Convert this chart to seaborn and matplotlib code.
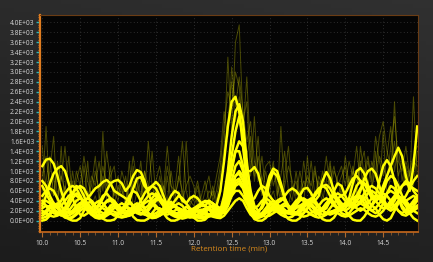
import numpy as np
import pandas as pd
import matplotlib
matplotlib.use("Agg")
import matplotlib.pyplot as plt
from matplotlib.ticker import MultipleLocator, FuncFormatter
import seaborn as sns

# ---------------- data ----------------
retention_time = np.arange(10.0, 14.96, 0.05).round(2)   # 100 samples, min

bright_1 = [1100,1230,1250,1150,900,600,350,200,150,200,300,400,450,400,300,200,150,150,200,250,
            300,350,300,250,200,150,120,150,250,380,450,420,300,200,150,120,100,120,150,180,
            200,180,150,120,100,150,300,600,1200,1900,2400,2500,2200,1500,800,350,150,100,120,200,
            300,350,300,200,150,150,200,280,300,250,180,120,100,150,250,350,400,350,250,150,
            120,150,250,400,500,450,300,200,150,200,350,550,700,650,450,250,150,200,300,400]
bright_2 = [300,500,750,950,1050,1100,1000,750,450,250,120,100,150,250,350,400,350,250,150,100,
            120,200,350,500,600,550,400,250,150,100,100,150,250,350,380,300,200,120,80,60,
            80,120,200,250,220,150,100,200,500,1000,1700,2200,2350,2000,1200,500,200,150,300,600,
            900,1050,1000,750,450,250,150,120,150,250,350,400,350,250,200,250,400,600,750,700,
            500,350,300,400,600,850,1000,1050,950,700,450,300,250,300,400,450,400,300,250,300]
bright_3 = [700,550,400,300,250,300,400,500,550,500,450,400,450,550,650,700,780,820,750,600,
            550,500,450,400,300,200,150,150,200,300,400,450,400,300,200,150,150,200,280,220,
            150,100,100,150,250,300,250,200,400,800,1300,1800,2100,1700,1000,1000,1080,950,650,400,
            250,200,250,300,350,300,200,150,120,150,250,400,550,650,700,650,500,350,250,200,
            250,350,450,500,450,350,250,200,250,350,450,550,600,550,450,400,500,650,800,900]
bright_4 = [400,300,200,150,120,150,250,400,550,650,700,650,500,350,250,300,450,600,750,800,
            820,750,600,700,900,1020,980,800,550,350,250,200,200,250,300,280,220,150,100,80,
            60,80,120,200,280,300,250,180,300,600,1000,1400,1600,1500,1100,600,300,200,250,400,
            800,980,900,700,450,300,250,350,500,640,660,550,400,500,800,980,850,600,400,300,
            300,450,750,1000,1060,950,700,500,400,450,600,800,900,850,700,500,400,450,500,450]
bright_5 = [150,200,300,350,300,200,120,100,150,250,350,400,350,250,150,100,120,200,300,350,
            300,250,200,180,200,250,300,350,400,380,300,220,150,120,150,200,250,220,150,100,
            80,60,50,60,80,100,120,150,300,700,1100,1400,1400,1100,600,250,100,80,100,150,
            200,250,300,280,220,150,120,150,250,350,400,350,250,200,250,350,450,500,450,350,
            300,350,500,700,800,750,600,450,400,500,700,900,1100,1300,1470,1300,900,600,1100,1900]
bright_6 = [500,600,650,600,450,300,200,150,200,300,350,300,200,120,80,60,80,150,250,300,
            250,180,120,100,150,250,400,550,650,700,650,500,350,200,120,80,60,80,120,150,
            180,200,180,150,120,100,80,100,250,500,800,1100,1200,1000,600,300,150,100,150,250,
            350,400,350,250,180,150,200,300,400,450,400,300,200,150,120,150,250,350,450,500,
            550,700,850,900,800,600,400,300,500,800,1100,1220,1100,800,500,300,200,150,200,250]
bright_7 = [200,150,100,80,100,150,250,400,550,700,650,500,300,200,150,200,300,400,450,400,
            300,200,150,120,150,200,300,400,500,550,500,400,300,250,300,400,500,450,350,250,
            200,250,350,400,350,250,150,100,200,400,650,900,1000,900,600,350,250,300,400,450,
            400,300,200,150,150,200,300,400,450,400,300,200,150,150,200,300,400,500,550,500,
            400,300,250,300,400,550,650,700,650,550,400,300,300,400,550,700,800,750,600,500]
bright_8 = [350,400,350,250,150,100,120,200,300,400,450,400,300,200,150,200,300,380,400,350,
            250,200,250,400,650,850,880,700,600,700,780,700,500,300,200,150,120,100,120,150,
            200,250,300,300,250,200,150,120,200,350,550,750,800,700,450,250,150,120,150,200,
            250,300,250,200,150,150,200,250,300,350,400,450,400,300,200,150,150,200,250,300,
            350,400,450,400,350,300,250,300,400,500,550,500,400,300,200,150,200,300,400,500]
bright_9 = [100,150,250,300,250,150,80,50,80,150,250,300,250,150,100,80,100,150,200,180,
            150,100,80,100,150,200,220,200,150,100,80,100,150,200,250,300,350,300,200,150,
            120,100,80,80,100,150,200,250,300,400,500,600,600,500,350,250,200,150,100,80,
            100,150,200,250,300,280,220,150,100,80,100,150,200,220,200,150,120,150,200,250,
            300,350,300,250,200,250,350,450,500,450,350,250,200,250,350,400,350,300,350,450]
bright_10 = [50,80,150,200,180,120,60,40,60,120,200,250,200,120,60,40,50,100,150,120,
             80,60,80,150,250,300,250,150,80,50,60,100,150,180,150,100,60,40,60,100,
             150,200,220,180,120,80,60,50,100,200,300,400,450,400,250,120,60,50,80,150,
             200,220,180,120,80,60,80,150,200,220,180,120,80,60,80,120,180,200,150,100,
             80,100,150,200,250,220,150,100,80,120,200,300,350,300,200,120,100,150,250,300]
bright_11 = [250,300,280,200,150,150,200,300,450,550,500,350,200,150,200,350,500,550,450,300,
             200,150,150,200,300,350,300,250,300,450,550,450,300,350,500,600,550,400,350,450,
             500,450,350,300,400,350,200,150,200,300,500,700,750,650,400,200,100,80,100,150,
             200,300,400,450,400,300,200,150,200,300,350,300,250,300,400,450,400,300,250,300,
             350,400,350,300,350,450,550,600,550,450,350,300,350,450,500,450,350,250,200,150]
bright_12 = [800,700,500,350,300,400,550,650,700,650,500,350,250,200,250,300,250,200,150,120,
             150,200,300,350,300,200,150,120,100,120,150,200,250,300,350,300,250,200,180,200,
             250,300,350,380,400,350,300,250,300,500,700,900,950,800,550,400,450,600,700,650,
             500,400,350,400,500,600,650,600,500,400,350,400,500,600,700,720,650,500,350,250,
             200,250,350,500,650,750,700,550,400,300,250,300,400,500,600,700,750,700,650,600]
bright_13 = [0,20,100,250,350,300,150,30,0,0,50,200,350,400,300,150,40,0,0,20,
             100,250,300,200,80,10,0,0,40,150,250,250,150,50,0,0,30,120,200,150,
             60,0,0,20,100,200,250,200,150,300,600,800,850,700,400,150,30,0,0,50,
             150,250,300,250,120,30,0,0,50,150,250,300,250,120,30,0,0,60,180,250,
             200,100,20,0,0,80,200,300,250,120,30,0,50,200,350,400,300,150,50,0]

faint_1 = [600,1900,400,900,300,1500,200,500,800,300,700,400,1200,300,500,200,1800,400,300,600,
           400,800,300,1200,200,600,400,1000,300,500,200,700,300,900,400,200,600,300,1600,400,
           300,500,200,400,300,700,400,900,1500,3300,1800,3600,3950,2000,2400,900,2100,900,500,700,
           400,600,300,1900,500,300,700,400,600,300,1300,400,300,800,500,400,1100,300,500,700,
           400,900,300,600,1200,400,800,500,1400,600,1800,500,900,2400,800,600,1100,700,2500,900]
faint_2 = [300,800,1300,500,1100,300,700,400,1000,500,300,1100,500,700,1300,400,900,500,1100,300,
           700,500,900,400,1100,500,800,300,600,1400,500,300,700,400,1000,500,800,1600,600,300,
           500,800,400,300,600,500,900,1300,2200,1700,3100,2300,2900,2200,1600,2000,1200,800,1300,600,
           800,1200,500,900,1400,600,400,1000,500,800,600,1200,500,900,700,1300,600,1000,800,500,
           1300,700,1100,500,1500,900,1200,700,1000,1700,2000,1400,1100,1600,900,1200,700,1000,1300,1500]
faint_3 = [1500,600,1000,1700,400,900,600,1300,400,800,1100,600,400,900,700,1200,600,1400,800,500,
           900,600,400,700,1300,800,500,1000,700,400,800,1100,600,1500,700,400,900,600,300,500,
           400,700,300,600,900,400,600,1100,1900,2600,2300,3000,2700,1800,2900,1300,900,1700,600,1000,
           500,1100,700,400,900,1500,600,800,400,1200,700,500,1000,600,400,800,1200,500,900,1100,
           700,1200,900,1500,700,1000,1300,800,1700,1200,900,1300,1900,1000,1500,800,1200,900,700,1400]
faint_4 = [900,1300,700,500,1200,800,1500,600,400,1000,700,1300,800,500,1000,600,1100,700,900,1100,
           500,1000,700,300,800,600,1200,500,1600,700,400,900,500,1100,700,600,1300,400,700,900,
           700,300,500,800,400,600,300,500,1300,2000,2800,2000,2500,1700,1300,1700,800,1300,800,1100,
           1200,700,1000,500,700,1100,800,500,1000,600,900,700,1100,500,1000,600,800,1100,700,900,
           1100,600,1000,800,1100,1400,700,1200,900,1300,1100,800,1500,2100,1200,1000,1500,900,1200,1100]

bright_series = {"b1": bright_1, "b2": bright_2, "b3": bright_3, "b4": bright_4,
                 "b5": bright_5, "b6": bright_6, "b7": bright_7, "b8": bright_8,
                 "b9": bright_9, "b10": bright_10, "b11": bright_11, "b12": bright_12,
                 "b13": bright_13}
faint_series = {"f1": faint_1, "f2": faint_2, "f3": faint_3, "f4": faint_4}

y_ticks = list(range(0, 4001, 200))
x_ticks = [10.0, 10.5, 11.0, 11.5, 12.0, 12.5, 13.0, 13.5, 14.0, 14.5]
x_label = "Retention time (min)"


def long_frame(series):
    rows = []
    for name, vals in series.items():
        rows.append(pd.DataFrame({"rt": retention_time, "intensity": vals, "trace": name}))
    return pd.concat(rows, ignore_index=True)


df_bright = long_frame(bright_series)
df_faint = long_frame(faint_series)

# ---------------- figure ----------------
plt.rcParams["font.family"] = ["Open Sans", "DejaVu Sans"]
W, H = 433, 262
fig = plt.figure(figsize=(W / 100, H / 100), dpi=100)

# background gradient
bg = fig.add_axes([0, 0, 1, 1], zorder=-10)
gy = np.linspace(0, 1, 64)[:, None]
gx = np.linspace(0, 1, 64)[None, :]
grad = 0.11 + 0.06 * gy + 0.02 * gx
bg.imshow(np.dstack([grad, grad, grad]), aspect="auto", origin="lower",
          extent=[0, 1, 0, 1])
bg.axis("off")

ax = fig.add_axes([40 / W, 1 - 232 / H, 378 / W, 217 / H])
ax.set_facecolor("#050505")

sns.lineplot(data=df_faint, x="rt", y="intensity", units="trace", estimator=None,
             color="#e6e600", alpha=0.3, linewidth=0.7, ax=ax, legend=False)
sns.lineplot(data=df_bright, x="rt", y="intensity", units="trace", estimator=None,
             color="#ffff00", linewidth=1.8, ax=ax, legend=False)

ax.set_xlim(9.97, 14.96)
ax.set_ylim(-230, 4150)

ax.set_yticks(y_ticks)
ax.yaxis.set_major_formatter(FuncFormatter(lambda v, p: "{:.1E}".format(v)))
ax.yaxis.set_minor_locator(MultipleLocator(50))
ax.set_xticks(x_ticks)
ax.xaxis.set_major_formatter(FuncFormatter(lambda v, p: "{:.1f}".format(v)))
ax.xaxis.set_minor_locator(MultipleLocator(0.1))

ax.tick_params(axis="y", which="major", colors="#2cb5b5", labelcolor="#d8d8d8",
               length=3, width=1, labelsize=4.8, pad=1)
ax.tick_params(axis="y", which="minor", colors="#d8781e", length=1.6, width=0.6)
ax.tick_params(axis="x", which="major", colors="#b06a30", labelcolor="#d8d8d8",
               length=3.5, width=0.8, labelsize=4.8, pad=2)
ax.tick_params(axis="x", which="minor", colors="#8a5a30", length=2, width=0.6)

ax.set_xlabel(x_label, color="#d98a1c", fontsize=5.8, labelpad=-0.5)
ax.set_ylabel("")

ax.grid(True, which="major", color="#3a3a3a", linestyle=(0, (1, 3)), linewidth=0.6)
ax.set_axisbelow(True)

for side, col, lw in [("left", "#e07d20", 1.6), ("bottom", "#c8691c", 1.2),
                      ("top", "#6a3c14", 0.8), ("right", "#6a3c14", 0.8)]:
    ax.spines[side].set_color(col)
    ax.spines[side].set_linewidth(lw)

fig.savefig("out.png", dpi=100, facecolor="#1c1c1c")
